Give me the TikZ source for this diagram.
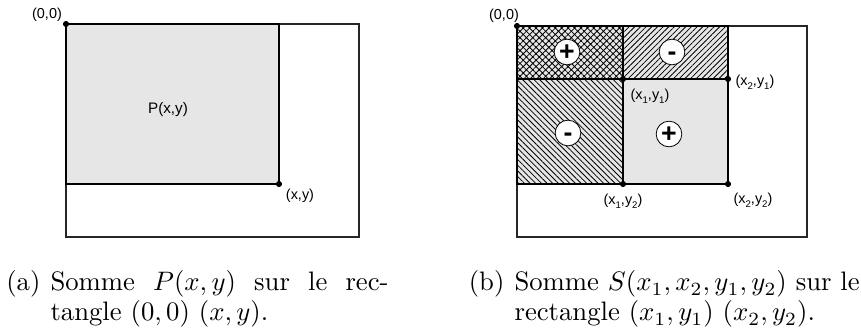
\documentclass[tikz,border=0pt]{standalone}
\usepackage{fontspec}
\newfontfamily\labfont{Liberation Sans}
\usetikzlibrary{patterns.meta}
\definecolor{shade}{HTML}{E6E6E6}
\newcommand\sbx[1]{\raisebox{-0.5ex}{\fontsize{3.6}{3.6}\selectfont #1}}
\tikzset{
  frame/.style={draw=black!85, line width=0.5pt},
  region/.style={draw=black, line width=0.5pt, fill=shade},
  hatched/.style={draw=black, line width=0.5pt, preaction={fill=shade},
    pattern={Lines[angle=#1,distance=1.5pt,line width=0.3pt]}},
  crossed/.style={draw=black, line width=0.5pt, preaction={fill=shade},
    pattern={Hatch[angle=45,distance=1.7pt,line width=0.3pt]}},
  dot/.style={circle, fill=black, inner sep=0pt, minimum size=2.3pt},
  lbl/.style={font=\labfont\fontsize{5.4}{6}\selectfont, inner sep=0pt},
  sign/.style={circle, draw=black, line width=0.3pt, fill=white, minimum size=9.6pt,
    inner sep=0pt, font=\labfont\bfseries\fontsize{10}{10}\selectfont,
    text height=0.62em, text depth=0pt},
  captext/.style={inner sep=0pt, font=\fontsize{10}{12}\selectfont},
}
\begin{document}
\begin{tikzpicture}[x=0.3745pt,y=-0.3745pt]
\useasboundingbox (0,0) rectangle (861,333);
% ---------- left panel
\draw[frame] (66,24) rectangle (359,237);
\draw[region] (66,24) rectangle (279,184);
\node[lbl, font=\labfont\fontsize{5.7}{6}\selectfont] (P) at (168,110) {P(x,y)};
\node[dot] (a0) at (66,24) {};
\node[dot] (axy) at (279,184) {};
\node[lbl] (la0) at (47,15) {(0,0)};
\node[lbl] (laxy) at (300,196) {(x,y)};
% ---------- right panel
\draw[frame] (517,26) rectangle (807,237);
\draw[crossed] (517,26) rectangle (623,79);
\draw[hatched=45] (623,26) rectangle (728,79);
\draw[hatched=-45] (517,79) rectangle (623,184);
\draw[region] (623,79) rectangle (728,184);
\node[dot] (b0) at (517,26) {};
\node[dot] (b11) at (623,79) {};
\node[dot] (b21) at (728,79) {};
\node[dot] (b12) at (623,184) {};
\node[dot] (b22) at (728,184) {};
\node[lbl] (lb0) at (504,16) {(0,0)};
\node[lbl] (lb21) at (755,82) {(x\sbx{2},y\sbx{1})};
\node[lbl] (lb11) at (650,96) {(x\sbx{1},y\sbx{1})};
\node[lbl] (lb12) at (623,201) {(x\sbx{1},y\sbx{2})};
\node[lbl] (lb22) at (753,200) {(x\sbx{2},y\sbx{2})};
\node[sign] (s1) at (567,52) {+};
\node[sign] (s2) at (672,52) {-};
\node[sign] (s3) at (568,133) {-};
\node[sign] (s4) at (669,134) {+};
% ---------- captions
\node[captext, anchor=base east] (ca) at (41,291) {(a)};
\node[captext, anchor=base west] (ca1) at (50,291) {\hbox to 126.6pt{Somme\hfill$P(x,y)$\hfill sur\hfill le\hfill rec-}};
\node[captext, anchor=base west] (ca2) at (50,321) {tangle $(0,0)$ $(x,y)$.};
\node[captext, anchor=base east] (cb) at (505,291) {(b)};
\node[captext, anchor=base west] (cb1) at (514,291) {Somme $S(x_1,x_2,y_1,y_2)$ sur le};
\node[captext, anchor=base west] (cb2) at (514,321) {rectangle $(x_1,y_1)$ $(x_2,y_2)$.};
\end{tikzpicture}
\end{document}
